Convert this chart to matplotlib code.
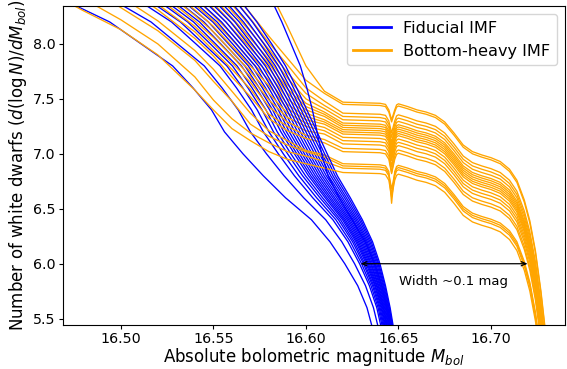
import matplotlib
matplotlib.use("Agg")
import matplotlib.pyplot as plt
from matplotlib.lines import Line2D

# Fiducial IMF curves: x (M_bol) read at fixed y levels
blue_levels = [8.45, 8.2, 8.0, 7.8, 7.6, 7.4, 7.2, 7.0, 6.8, 6.6, 6.4, 6.2, 6.0, 5.8, 5.6, 5.35]
blue_x = [
    [16.4630, 16.4940, 16.5110, 16.5280, 16.5390, 16.5490, 16.5560, 16.5660, 16.5770, 16.5890, 16.6030, 16.6130, 16.6210, 16.6280, 16.6330, 16.6370],
    [16.4907, 16.5163, 16.5307, 16.5451, 16.5547, 16.5634, 16.5700, 16.5787, 16.5882, 16.5988, 16.6107, 16.6194, 16.6263, 16.6322, 16.6365, 16.6401],
    [16.5046, 16.5274, 16.5406, 16.5536, 16.5625, 16.5706, 16.5770, 16.5851, 16.5938, 16.6037, 16.6146, 16.6227, 16.6290, 16.6343, 16.6383, 16.6416],
    [16.5105, 16.5322, 16.5448, 16.5573, 16.5659, 16.5737, 16.5800, 16.5878, 16.5962, 16.6058, 16.6162, 16.6240, 16.6301, 16.6352, 16.6390, 16.6423],
    [16.5155, 16.5361, 16.5484, 16.5603, 16.5687, 16.5763, 16.5825, 16.5901, 16.5982, 16.6076, 16.6176, 16.6252, 16.6311, 16.6360, 16.6396, 16.6428],
    [16.5194, 16.5393, 16.5512, 16.5628, 16.5709, 16.5784, 16.5845, 16.5919, 16.5998, 16.6090, 16.6187, 16.6261, 16.6318, 16.6366, 16.6401, 16.6433],
    [16.5234, 16.5425, 16.5540, 16.5652, 16.5732, 16.5804, 16.5865, 16.5938, 16.6014, 16.6104, 16.6198, 16.6270, 16.6326, 16.6372, 16.6406, 16.6437],
    [16.5264, 16.5449, 16.5561, 16.5670, 16.5748, 16.5820, 16.5880, 16.5951, 16.6026, 16.6114, 16.6206, 16.6277, 16.6332, 16.6376, 16.6410, 16.6440],
    [16.5293, 16.5473, 16.5582, 16.5689, 16.5765, 16.5835, 16.5895, 16.5965, 16.6038, 16.6125, 16.6214, 16.6284, 16.6337, 16.6381, 16.6414, 16.6444],
    [16.5323, 16.5497, 16.5604, 16.5707, 16.5782, 16.5851, 16.5910, 16.5979, 16.6050, 16.6135, 16.6223, 16.6291, 16.6343, 16.6385, 16.6418, 16.6447],
    [16.5353, 16.5520, 16.5625, 16.5725, 16.5799, 16.5866, 16.5925, 16.5992, 16.6062, 16.6146, 16.6231, 16.6298, 16.6349, 16.6390, 16.6421, 16.6450],
    [16.5382, 16.5544, 16.5646, 16.5744, 16.5816, 16.5881, 16.5940, 16.6006, 16.6074, 16.6156, 16.6239, 16.6305, 16.6354, 16.6394, 16.6425, 16.6454],
    [16.5412, 16.5568, 16.5667, 16.5762, 16.5832, 16.5897, 16.5955, 16.6019, 16.6086, 16.6167, 16.6247, 16.6312, 16.6360, 16.6399, 16.6429, 16.6457],
    [16.5442, 16.5592, 16.5688, 16.5780, 16.5849, 16.5912, 16.5970, 16.6033, 16.6098, 16.6177, 16.6256, 16.6319, 16.6366, 16.6403, 16.6433, 16.6460],
    [16.5472, 16.5616, 16.5709, 16.5799, 16.5866, 16.5928, 16.5985, 16.6047, 16.6110, 16.6188, 16.6264, 16.6326, 16.6372, 16.6408, 16.6436, 16.6464],
    [16.5501, 16.5640, 16.5730, 16.5817, 16.5883, 16.5943, 16.6000, 16.6060, 16.6122, 16.6198, 16.6272, 16.6332, 16.6377, 16.6412, 16.6440, 16.6467],
    [16.5531, 16.5663, 16.5752, 16.5835, 16.5900, 16.5959, 16.6015, 16.6074, 16.6134, 16.6209, 16.6280, 16.6339, 16.6383, 16.6417, 16.6444, 16.6470],
    [16.5561, 16.5687, 16.5773, 16.5853, 16.5916, 16.5974, 16.6030, 16.6088, 16.6146, 16.6219, 16.6289, 16.6346, 16.6389, 16.6421, 16.6448, 16.6473],
    [16.5590, 16.5711, 16.5794, 16.5872, 16.5933, 16.5990, 16.6045, 16.6101, 16.6158, 16.6230, 16.6297, 16.6353, 16.6394, 16.6426, 16.6451, 16.6477],
    [16.5620, 16.5735, 16.5815, 16.5890, 16.5950, 16.6005, 16.6060, 16.6115, 16.6170, 16.6240, 16.6305, 16.6360, 16.6400, 16.6430, 16.6455, 16.6480],
    [16.5800, 16.5870, 16.5920, 16.5970, 16.6005, 16.6035, 16.6060, 16.6085, 16.6120, 16.6180, 16.6250, 16.6320, 16.6370, 16.6410, 16.6440, 16.6470],
]

# Bottom-heavy IMF curves: early descent, y read at fixed x
orange_early_x = [16.46, 16.48, 16.50, 16.52, 16.54, 16.55, 16.56, 16.57, 16.58, 16.59, 16.60, 16.61]
orange_early_y = [
    [10.5, 10.0, 9.60, 9.30, 9.10, 9.00, 8.90, 8.70, 8.50, 8.16, 7.80, 7.57],
    [10.2, 9.90, 9.60, 9.30, 8.85, 8.66, 8.49, 8.28, 8.07, 7.87, 7.67, 7.55],
    [10.1, 9.80, 9.50, 9.20, 8.79, 8.61, 8.43, 8.23, 8.01, 7.81, 7.60, 7.48],
    [10.0, 9.70, 9.40, 9.10, 8.71, 8.54, 8.36, 8.16, 7.95, 7.74, 7.55, 7.44],
    [9.90, 9.60, 9.30, 9.00, 8.65, 8.49, 8.30, 8.11, 7.91, 7.69, 7.50, 7.41],
    [9.80, 9.50, 9.22, 8.92, 8.58, 8.42, 8.24, 8.05, 7.86, 7.63, 7.46, 7.38],
    [9.70, 9.40, 9.15, 8.85, 8.53, 8.37, 8.19, 8.00, 7.82, 7.59, 7.43, 7.36],
    [9.60, 9.35, 9.10, 8.80, 8.48, 8.32, 8.14, 7.96, 7.78, 7.55, 7.40, 7.34],
    [9.50, 9.30, 9.03, 8.72, 8.42, 8.26, 8.09, 7.90, 7.73, 7.50, 7.37, 7.31],
    [9.45, 9.25, 8.96, 8.64, 8.36, 8.21, 8.04, 7.85, 7.67, 7.45, 7.34, 7.29],
    [9.40, 9.15, 8.89, 8.58, 8.31, 8.16, 7.98, 7.80, 7.62, 7.41, 7.31, 7.27],
    [9.30, 9.07, 8.82, 8.53, 8.26, 8.11, 7.93, 7.75, 7.55, 7.37, 7.28, 7.24],
    [9.20, 8.98, 8.75, 8.48, 8.21, 8.06, 7.89, 7.70, 7.49, 7.33, 7.25, 7.21],
    [9.15, 8.92, 8.68, 8.42, 8.16, 8.00, 7.83, 7.65, 7.43, 7.29, 7.21, 7.18],
    [9.11, 8.86, 8.61, 8.36, 8.11, 7.94, 7.77, 7.59, 7.36, 7.25, 7.17, 7.13],
    [9.00, 8.78, 8.55, 8.31, 8.05, 7.89, 7.70, 7.52, 7.32, 7.21, 7.14, 7.10],
    [8.85, 8.65, 8.43, 8.21, 7.94, 7.77, 7.57, 7.37, 7.21, 7.12, 7.03, 6.99],
    [8.75, 8.54, 8.33, 8.12, 7.85, 7.66, 7.48, 7.27, 7.16, 7.08, 7.02, 6.97],
    [8.59, 8.41, 8.22, 8.00, 7.70, 7.49, 7.32, 7.19, 7.10, 7.02, 6.98, 6.93],
    [8.48, 8.30, 8.13, 7.90, 7.58, 7.40, 7.23, 7.12, 7.02, 6.95, 6.91, 6.87],
]

# plateau / dip / cut-off shape of the top Bottom-heavy curve
orange_late_x = [16.620, 16.630, 16.640, 16.643, 16.6448, 16.6463, 16.648, 16.649, 16.650,
                 16.655, 16.660, 16.665, 16.670, 16.675, 16.680, 16.685, 16.690, 16.695,
                 16.700, 16.705, 16.710, 16.714, 16.718, 16.721, 16.724, 16.727, 16.730, 16.733]
orange_late_y = [7.47, 7.465, 7.46, 7.45, 7.40, 7.31, 7.40, 7.445, 7.455,
                 7.43, 7.40, 7.38, 7.35, 7.29, 7.19, 7.08, 7.02, 6.99,
                 6.965, 6.93, 6.86, 6.76, 6.58, 6.39, 6.12, 5.75, 5.30, 4.80]
# level of each curve below the top one, and extra depth of its dip
orange_offset = [0.0, -0.02, -0.10, -0.13, -0.16, -0.19, -0.21, -0.23, -0.25, -0.27,
                 -0.29, -0.32, -0.35, -0.38, -0.42, -0.45, -0.56, -0.58, -0.60, -0.64]
orange_dip = [0.0, 0.0, 0.02, 0.03, 0.05, 0.04, 0.06, 0.05, 0.07, 0.04,
              0.06, 0.05, 0.08, 0.05, 0.06, 0.04, 0.20, 0.05, 0.08, 0.06]
DIP_AT = 5

fig, ax = plt.subplots(figsize=(5.67, 3.69), dpi=100)
fig.subplots_adjust(left=0.1106, right=0.9965, bottom=0.12, top=0.9837)

n = max(len(blue_x), len(orange_early_y))
for i in range(n):
    if i < len(blue_x):
        ax.plot(blue_x[i], blue_levels, color="blue", lw=0.95)
    if i < len(orange_early_y):
        late = [v + orange_offset[i] for v in orange_late_y]
        late[DIP_AT] -= orange_dip[i]
        ax.plot(orange_early_x + orange_late_x, orange_early_y[i] + late,
                color="orange", lw=0.95)

ax.annotate("", xy=(16.6295, 6.0), xytext=(16.7198, 6.0),
            arrowprops=dict(arrowstyle="<->,head_length=0.35,head_width=0.15",
                            color="black", lw=0.9, shrinkA=0, shrinkB=0))
ax.text(16.6798, 5.84, "Width ~0.1 mag", ha="center", va="center", fontsize=9.5)

ax.set_xlim(16.4686, 16.740)
ax.set_ylim(5.445, 8.345)
ax.set_xticks([16.50, 16.55, 16.60, 16.65, 16.70])
ax.set_yticks([5.5, 6.0, 6.5, 7.0, 7.5, 8.0])
ax.tick_params(labelsize=10.3, length=2.7, pad=2.5)
ax.set_xlabel(r"Absolute bolometric magnitude $M_{bol}$", fontsize=12)
ax.xaxis.set_label_coords(0.5, -0.066)
ax.set_ylabel(r"Number of white dwarfs ($d(\log N)/dM_{bol}$)", fontsize=12, labelpad=3)

handles = [Line2D([], [], color="blue", lw=2.0, label="Fiducial IMF"),
           Line2D([], [], color="orange", lw=2.0, label="Bottom-heavy IMF")]
ax.legend(handles=handles, loc="upper right", fontsize=11.6, handlelength=2.3)

fig.savefig("out.png", dpi=100)
